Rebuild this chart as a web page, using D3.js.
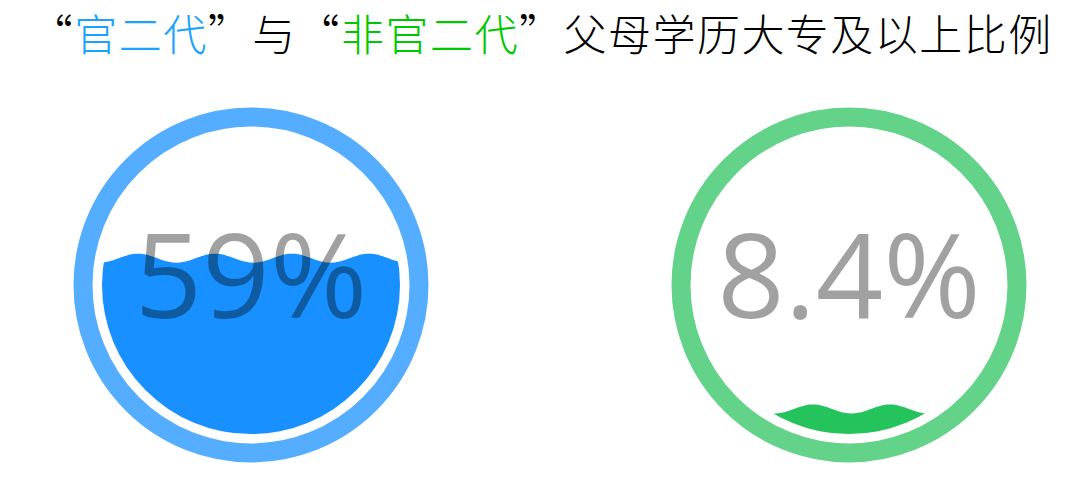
<!DOCTYPE html>
<html>
<head>
<meta charset="utf-8">
<script src="https://cdn.jsdelivr.net/npm/d3@7"></script>
<style>
  body { margin: 0; background: #ffffff; }
  svg { display: block; }
</style>
</head>
<body>
<svg id="LiquidVis" width="1080" height="481"></svg>
<script>
const width = 1080;
const height = 481;

/* DATA */
const gaugeNames = ["官二代", "非官二代"];
const gaugeValues = [0.59, 0.084];
const gaugeLabels = ["59%", "8.4%"];
const fillColors = ["#1890ff", "#24c35c"];
const ringColors = ["#55adff", "#63d38a"];

const titleParts = [
  { text: "“", color: "#000000" },
  { text: "官二代", color: "#19a3ff" },
  { text: "”与“", color: "#000000" },
  { text: "非官二代", color: "#00c800" },
  { text: "”父母学历大专及以上比例", color: "#000000" }
];


/* SETUP */
const svg = d3.select("svg#LiquidVis");

const gauge = {
  cy: 285,
  ringRadius: 168,
  ringWidth: 19,
  fillRadius: 149,
  waveLength: 77,
  waveAmp: 4.5,
  waveShift: -36
};

const x = d3.scalePoint()
  .domain(gaugeNames)
  .range([251, 849]);

// fill level: 0 -> bottom of inner circle, 1 -> top
const level = d3.scaleLinear()
  .domain([0, 1])
  .range([gauge.cy + gauge.fillRadius, gauge.cy - gauge.fillRadius]);

drawTitle();
drawGauges();


/* TITLE */
function drawTitle() {
  // one full-width cell per character, like the original CJK layout
  let chars = [];
  titleParts.forEach(function(part) {
    Array.from(part.text).forEach(function(c) {
      chars.push({ ch: c, color: part.color });
    });
  });

  const cell = d3.scaleBand()
    .domain(d3.range(chars.length))
    .range([29, 1052]);

  const title = svg.append("g").attr("id", "title");

  title.selectAll("text")
    .data(chars)
    .enter()
    .append("text")
    .attr("x", (d, i) => cell(i) + cell.bandwidth() / 2)
    .attr("y", 51)
    .attr("text-anchor", "middle")
    .attr("fill", d => d.color)
    .style("font-family", "'Noto Sans CJK SC', sans-serif")
    .style("font-weight", 300)
    .style("font-size", "43px")
    .text(d => d.ch);
}


/* GAUGES */
function drawGauges() {
  const defs = svg.append("defs");

  gaugeNames.forEach(function(name, i) {
    const cx = x(name);
    const g = svg.append("g").attr("class", "gauge");

    // outer ring
    g.append("circle")
      .attr("cx", cx)
      .attr("cy", gauge.cy)
      .attr("r", gauge.ringRadius)
      .attr("fill", "none")
      .attr("stroke", ringColors[i])
      .attr("stroke-width", gauge.ringWidth);

    // clip for liquid
    defs.append("clipPath")
      .attr("id", "clip-" + i)
      .append("circle")
      .attr("cx", cx)
      .attr("cy", gauge.cy)
      .attr("r", gauge.fillRadius);

    const waterLevel = level(gaugeValues[i]);
    const xs = d3.range(cx - gauge.fillRadius - 2, cx + gauge.fillRadius + 3, 1);

    const wave = d3.area()
      .x(d => d)
      .y0(gauge.cy + gauge.fillRadius + 5)
      .y1(d => waterLevel - gauge.waveAmp *
        Math.cos(2 * Math.PI * (d - cx - gauge.waveShift) / gauge.waveLength))
      .curve(d3.curveBasis);

    g.append("path")
      .attr("clip-path", "url(#clip-" + i + ")")
      .attr("d", wave(xs))
      .attr("fill", fillColors[i]);

    // value text on top
    g.append("text")
      .attr("x", cx)
      .attr("y", 318)
      .attr("text-anchor", "middle")
      .style("font-family", "'Open Sans', sans-serif")
      .style("font-size", "118px")
      .attr("fill", "#000000")
      .attr("fill-opacity", 0.37)
      .text(gaugeLabels[i]);
  });
}
</script>
</body>
</html>
